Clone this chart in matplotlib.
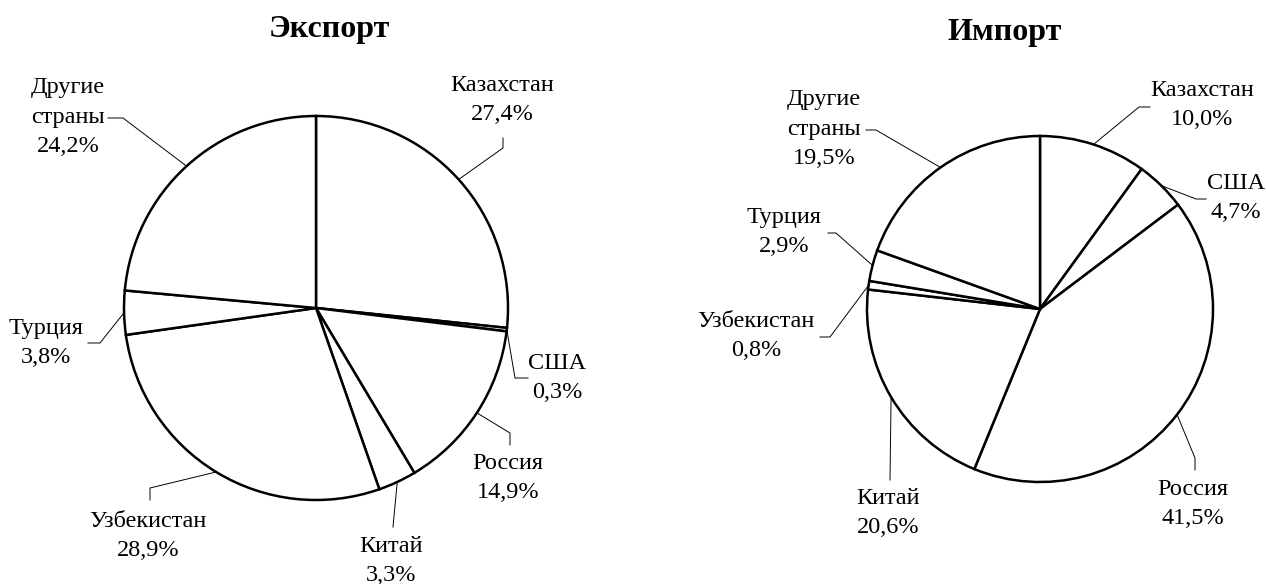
import numpy as np
import matplotlib
matplotlib.use("Agg")
import matplotlib.pyplot as plt

# figure size in pixels (dpi 100)
W, H = 1266, 584

countries = ["Казахстан", "США", "Россия", "Китай", "Узбекистан", "Турция", "Другие\nстраны"]
export_share = [27.4, 0.3, 14.9, 3.3, 28.9, 3.8, 24.2]
import_share = [10.0, 4.7, 41.5, 20.6, 0.8, 2.9, 19.5]

plt.rcParams["font.family"] = ["Liberation Serif", "DejaVu Serif"]

fig = plt.figure(figsize=(W / 100, H / 100), dpi=100)
ax = fig.add_axes([0, 0, 1, 1])


def draw_pie(values, center, radius, title, title_xy, text_xy, paths):
    # positions are given in pixels from the top-left corner
    cx, cy = center
    wedges, _ = ax.pie(values, center=(cx, H - cy), radius=radius,
                       startangle=90, counterclock=False,
                       colors=["white"] * len(values), frame=True,
                       wedgeprops=dict(edgecolor="black", linewidth=1.8))
    ax.text(title_xy[0], H - title_xy[1], title, ha="center", va="baseline",
            fontsize=23, fontweight="bold")
    for w, name, val, txy, path in zip(wedges, countries, values, text_xy, paths):
        # leader line from the middle of the wedge edge
        mid = np.radians((w.theta1 + w.theta2) / 2)
        xs = [cx + radius * np.cos(mid)] + [p[0] for p in path]
        ys = [H - cy + radius * np.sin(mid)] + [H - p[1] for p in path]
        ax.plot(xs, ys, color="black", lw=0.7)
        label = name + "\n" + f"{val:.1f}".replace(".", ",") + "%"
        ax.text(txy[0], H - txy[1], label, ha="center", va="center",
                fontsize=17.5, linespacing=1.55)


draw_pie(export_share, (316, 308), 192, "Экспорт", (329, 37),
         [(502, 100), (557, 378), (508, 478), (391, 561), (148, 536), (46, 343), (68, 117)],
         [[(503, 148), (503, 138)],
          [(515, 378), (528, 378)],
          [(510, 433), (510, 445)],
          [(393, 527)],
          [(150, 488), (150, 500)],
          [(100, 343), (88, 343)],
          [(123, 118), (108, 118)]])

draw_pie(import_share, (1040, 309), 173, "Импорт", (1005, 40),
         [(1202, 105), (1236, 198), (1193, 504), (888, 513), (756, 336), (784, 232), (824, 129)],
         [[(1139, 107), (1150, 107)],
          [(1196, 199), (1206, 199)],
          [(1195, 458), (1195, 470)],
          [(890, 480)],
          [(830, 337), (820, 337)],
          [(836, 233), (828, 233)],
          [(876, 130), (866, 130)]])

ax.set_xlim(0, W)
ax.set_ylim(0, H)
ax.set_aspect("equal")
ax.axis("off")

fig.savefig("out.png", dpi=100, facecolor="white")
